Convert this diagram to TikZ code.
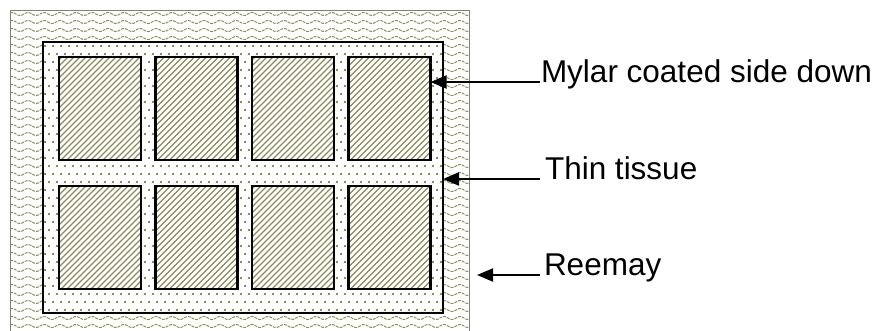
\documentclass[tikz,border=0pt]{standalone}
\usepackage{fontspec}
\setmainfont{Liberation Sans}
\usetikzlibrary{arrows.meta}
\definecolor{pat}{RGB}{140,140,90}
\begin{document}
\begin{tikzpicture}[x=1pt,y=-1pt,
  box/.style={inner sep=0pt,outer sep=0pt,anchor=north west},
  tilebox/.style={box,draw=black,line width=2.2pt,minimum width=82pt,minimum height=103pt},
  lab/.style={inner sep=0pt,outer sep=0pt,anchor=base west,font=\fontsize{31.5}{36}\selectfont},
  arr/.style={line width=2pt,-{Triangle[length=16pt,width=13pt]}},
  wave/.style={pat,line width=1pt,dash pattern=on 3pt off 1pt},
  hatch/.style={pat,line width=1.2pt}]
\useasboundingbox (0,0) rectangle (881,330);
% --- Reemay (wavy) region
\begin{scope}
  \clip (10,10) rectangle (469,330);
  \foreach \r in {0,...,40}{
    \draw[wave] plot[domain=10:470,samples=400,smooth] (\x,{14+8*\r+1.5*sin(22.5*\x)});
  }
\end{scope}
% --- Thin tissue (dotted) region
\fill[white] (43,42) rectangle (443,313);
\begin{scope}
  \clip (43,42) rectangle (443,313);
  \foreach \i in {0,...,50}{
    \foreach \j in {0,...,17}{
      \fill[pat] ({44+8*\i},{45+16*\j}) rectangle ++(1.7,1.7);
      \fill[pat] ({48+8*\i},{53+16*\j}) rectangle ++(1.7,1.7);
    }
  }
\end{scope}
% --- Mylar tiles (hatched)
\foreach \c/\xx in {1/59,2/155.5,3/252,4/348.5}{
  \foreach \rr/\yy in {1/57,2/186}{
    \fill[white] (\xx,\yy) rectangle ++(82,103);
    \begin{scope}
      \clip (\xx,\yy) rectangle ++(82,103);
      \foreach \o in {-108,-102,...,84}{
        \draw[hatch] ({\xx+\o},{\yy+105}) -- ++(110,-110);
      }
    \end{scope}
    \node[tilebox] (t\rr\c) at (\xx,\yy) {};
  }
}
% --- outlines
\node[box,draw=gray,line width=1pt,minimum width=459pt,minimum height=340pt] (reemay) at (10,10) {};
\node[box,draw=black,line width=2.8pt,minimum width=400pt,minimum height=271pt] (tissue) at (43,42) {};
% --- labels and arrows
\node[lab] (lmylar) at (541,82) {Mylar coated side down};
\node[lab] (ltissue) at (545,179) {Thin tissue};
\node[lab] (lreemay) at (544,275) {Reemay};
\draw[arr] ([xshift=-1pt]lmylar.base west) -- (lmylar.base west -| t14.east);
\draw[arr] ([xshift=-5pt]ltissue.base west) -- (ltissue.base west -| tissue.east);
\draw[arr] ([xshift=-4pt]lreemay.base west) -- ([xshift=8pt]lreemay.base west -| reemay.east);
\end{tikzpicture}
\end{document}
